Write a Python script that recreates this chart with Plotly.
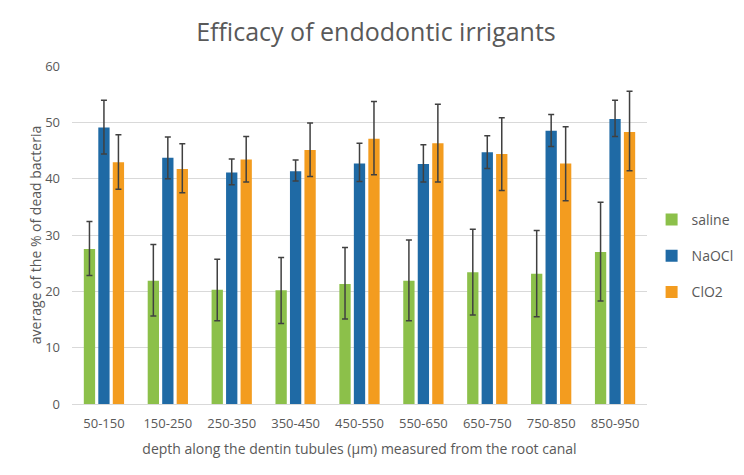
import plotly.graph_objects as go

categories = ["50-150", "150-250", "250-350", "350-450", "450-550",
              "550-650", "650-750", "750-850", "850-950"]

saline = [27.5, 21.9, 20.3, 20.2, 21.3, 21.9, 23.4, 23.1, 27.0]
saline_hi = [32.4, 28.3, 25.7, 26.0, 27.8, 29.1, 31.0, 30.8, 35.8]
saline_lo = [22.8, 15.6, 14.8, 14.3, 15.1, 14.8, 15.8, 15.5, 18.3]

naocl = [49.1, 43.7, 41.1, 41.3, 42.7, 42.6, 44.7, 48.5, 50.6]
naocl_hi = [53.9, 47.4, 43.5, 43.3, 46.3, 46.0, 47.6, 51.4, 53.9]
naocl_lo = [44.4, 40.0, 38.9, 39.6, 39.5, 39.4, 41.8, 45.7, 47.5]

clo2 = [42.9, 41.7, 43.4, 45.1, 47.1, 46.3, 44.4, 42.7, 48.3]
clo2_hi = [47.8, 46.2, 47.5, 49.9, 53.7, 53.2, 50.8, 49.2, 55.5]
clo2_lo = [38.1, 37.5, 39.4, 40.4, 40.7, 39.4, 37.9, 36.1, 41.4]

series = [
    ("saline", saline, saline_hi, saline_lo, "#8cc04a"),
    ("NaOCl", naocl, naocl_hi, naocl_lo, "#1f6aa5"),
    ("ClO2", clo2, clo2_hi, clo2_lo, "#f39c1f"),
]

fig = go.Figure()
for name, vals, hi, lo, color in series:
    fig.add_trace(go.Bar(
        x=categories, y=vals, name=name, legendgroup=name,
        marker=dict(color=color, line=dict(width=0)),
        error_y=dict(
            type="data", symmetric=False,
            array=[h - v for h, v in zip(hi, vals)],
            arrayminus=[v - l for v, l in zip(vals, lo)],
            color="#404040", thickness=1.5, width=3,
        ),
    ))

font_family = "Open Sans, Noto Sans, sans-serif"
W, H = 736, 467
fig.update_layout(
    width=W, height=H,
    margin=dict(l=64, r=97, t=58, b=71, autoexpand=False),
    paper_bgcolor="white", plot_bgcolor="white",
    barmode="group", bargap=0.32, bargroupgap=0.22,
    font=dict(family=font_family, color="#595959", size=13),
    title=dict(text="Efficacy of endodontic irrigants", x=0.5, xanchor="center",
               y=1 - 24 / H, yref="container", yanchor="middle",
               font=dict(size=25, color="#595959", family=font_family)),
    legend=dict(x=1.008, xanchor="left", y=0.438, yanchor="middle",
                font=dict(size=14, color="#595959"), tracegroupgap=15),
    showlegend=True,
)
fig.update_xaxes(
    automargin=False,
    showline=True, linecolor="#d9d9d9", linewidth=1,
    ticks="", ticklabelstandoff=7, tickfont=dict(size=13, color="#595959"),
    title=dict(text="depth along the dentin tubules (μm) measured from the root canal",
               font=dict(size=14, color="#595959"), standoff=13),
)
fig.update_yaxes(
    automargin=False,
    range=[0, 60], dtick=10, showgrid=True, gridcolor="#d9d9d9", gridwidth=1,
    zeroline=False, showline=False, ticks="", ticklen=0, ticklabelstandoff=11,
    tickfont=dict(size=13, color="#595959"),
    title=dict(text="average of the % of dead bacteria",
               font=dict(size=14, color="#595959"), standoff=0),
)

fig.write_html("out.html")
